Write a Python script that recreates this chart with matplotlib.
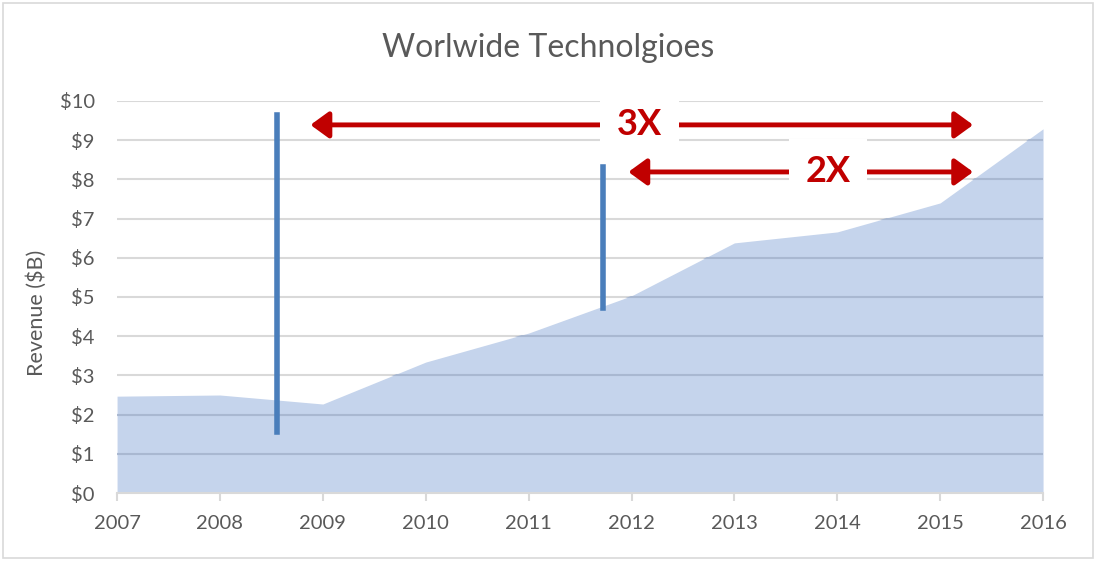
import matplotlib.pyplot as plt
from matplotlib.patches import Rectangle

plt.rcParams['font.family'] = ['Lato', 'DejaVu Sans']

years = [2007, 2008, 2009, 2010, 2011, 2012, 2013, 2014, 2015, 2016]
revenue = [2.47, 2.5, 2.27, 3.34, 4.08, 5.03, 6.38, 6.66, 7.4, 9.29]
y_ticks = [0, 1, 2, 3, 4, 5, 6, 7, 8, 9, 10]
y_labels = ['$' + str(t) for t in y_ticks]

# vertical marker bars (x, y bottom, y top)
marker_x = [2008.55, 2011.72]
marker_lo = [1.56, 4.72]
marker_hi = [9.64, 8.32]

# red arrows (start, end, y, label, label x)
arrow_x0 = [2008.88, 2011.97]
arrow_x1 = [2015.32, 2015.32]
arrow_y = [9.39, 8.19]
arrow_text = ['3X', '2X']
arrow_text_x = [2012.08, 2013.91]

fig = plt.figure(figsize=(10.96, 5.61), dpi=100)
fig.patches.append(Rectangle((0.003, 0.005), 0.994, 0.99, transform=fig.transFigure,
                             fill=False, edgecolor='#d9d9d9', linewidth=1.2))
ax = fig.add_axes([0.1068, 0.1212, 0.8449, 0.6988])

area = ax.fill_between(years, revenue, 0, color='#c5d4ec', linewidth=0, zorder=1)
ax.set_xlim(2007, 2016)
ax.set_ylim(0, 10)
ax.set_yticks(y_ticks)
ax.set_yticklabels(y_labels)
ax.set_xticks(years)
for t in y_ticks[1:]:
    ax.axhline(t, color='#d9d9d9', linewidth=1.5, zorder=0.5)
    # darker part of gridline over the filled area
    ln = ax.axhline(t, color='#a9b8d1', linewidth=1.5, zorder=2)
    ln.set_clip_path(area.get_paths()[0], area.get_transform())

for s in ['top', 'right', 'left']:
    ax.spines[s].set_visible(False)
ax.spines['bottom'].set_color('#d9d9d9')
ax.spines['bottom'].set_linewidth(1.5)
ax.spines['bottom'].set_zorder(3)
ax.tick_params(axis='y', length=0, pad=16, labelsize=14.5, labelcolor='#595959')
ax.tick_params(axis='x', length=6, width=1.5, color='#d9d9d9', pad=10,
               labelsize=14.5, labelcolor='#595959')

ax.set_ylabel('Revenue ($B)', fontsize=15.5, color='#595959')
ax.yaxis.set_label_coords(-0.076, 0.46)
fig.text(0.5, 0.915, 'Worlwide Technolgioes', fontsize=23, color='#595959',
         ha='center', va='center')

for x, lo, hi in zip(marker_x, marker_lo, marker_hi):
    ax.plot([x, x], [lo, hi], color='#4a7ebb', linewidth=4, zorder=5)

for x0, x1, y in zip(arrow_x0, arrow_x1, arrow_y):
    ax.annotate('', xy=(x1, y), xytext=(x0, y),
                arrowprops=dict(arrowstyle='<|-|>,head_length=0.55,head_width=0.4',
                                mutation_scale=20, color='#c00000', linewidth=3.5,
                                shrinkA=0, shrinkB=0),
                zorder=6)
for y, txt, tx in zip(arrow_y, arrow_text, arrow_text_x):
    ax.text(tx, y, txt, fontsize=26, fontweight='bold', color='#c00000',
            ha='center', va='center', zorder=7,
            bbox=dict(facecolor='white', edgecolor='none', pad=12))

fig.savefig('out.png', dpi=100)
